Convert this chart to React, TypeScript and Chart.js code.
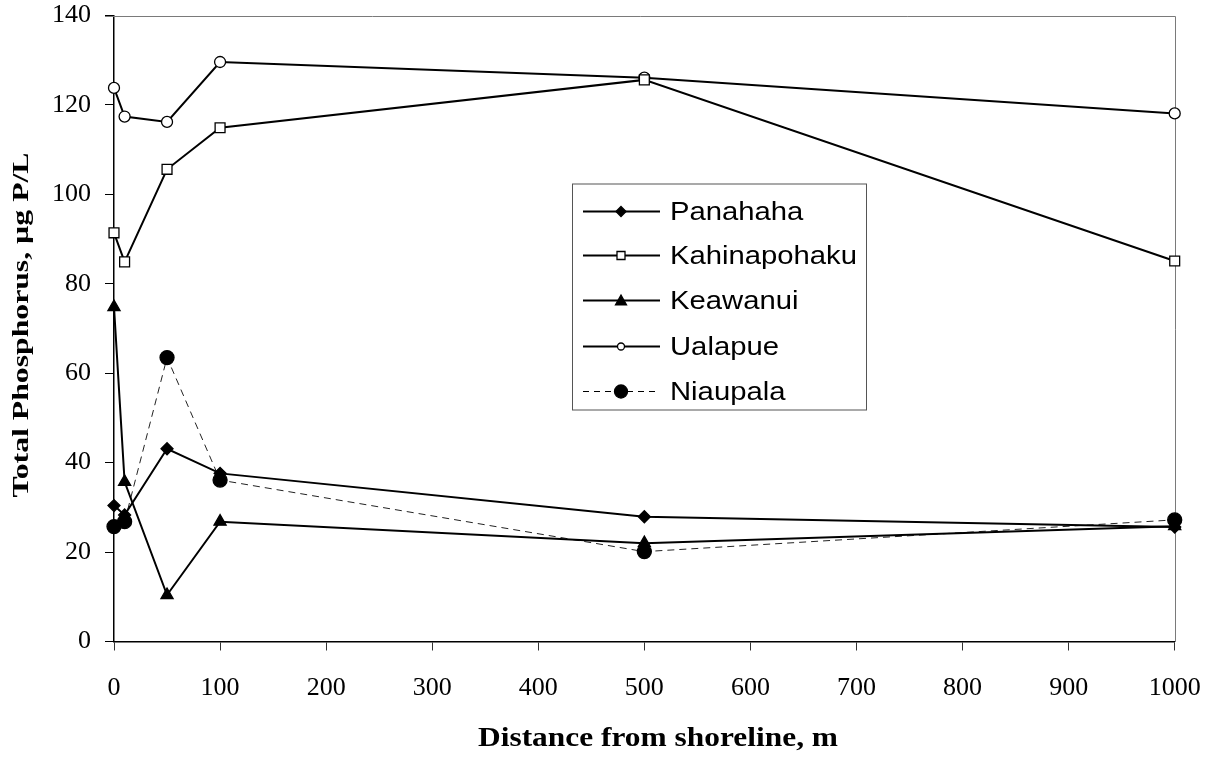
import React, { useEffect, useRef } from 'react';
import { Chart, registerables } from 'chart.js';

Chart.register(...registerables);

// Sampling distances (m) and total phosphorus (µg P/L) per site
const distances = [0, 10, 50, 100, 500, 1000];
const panahaha = [30.4, 28.3, 43.1, 37.6, 27.9, 25.6];
const kahinapohaku = [91.4, 84.9, 105.6, 114.9, 125.6, 85.1];
const keawanui = [74.8, 35.7, 10.4, 26.8, 22.0, 25.8];
const ualapue = [123.8, 117.4, 116.2, 129.6, 126.1, 118.1];
const niaupala = [25.7, 26.8, 63.5, 36.1, 20.1, 27.2];

const seriesNames = ['Panahaha', 'Kahinapohaku', 'Keawanui', 'Ualapue', 'Niaupala'];
const xTicks = { min: 0, max: 1000, step: 100 };
const yTicks = { min: 0, max: 140, step: 20 };
const xTitle = 'Distance from shoreline, m';
const yTitle = 'Total Phosphorus, µg P/L';

const SERIF = "'Liberation Serif', 'Times New Roman', serif";
const SANS = "'Liberation Sans', Arial, sans-serif";

type Marker = 'diamond' | 'square' | 'triangle' | 'ring' | 'dot';

function drawMarker(ctx: CanvasRenderingContext2D, kind: Marker, x: number, y: number, r: number) {
  ctx.save();
  ctx.beginPath();
  ctx.lineWidth = 1.3;
  ctx.strokeStyle = '#000';
  ctx.fillStyle = kind === 'square' || kind === 'ring' ? '#fff' : '#000';
  if (kind === 'diamond') {
    ctx.moveTo(x, y - r);
    ctx.lineTo(x + r, y);
    ctx.lineTo(x, y + r);
    ctx.lineTo(x - r, y);
    ctx.closePath();
  } else if (kind === 'square') {
    ctx.rect(x - r, y - r, 2 * r, 2 * r);
  } else if (kind === 'triangle') {
    ctx.moveTo(x, y - r);
    ctx.lineTo(x + r, y + r * 0.8);
    ctx.lineTo(x - r, y + r * 0.8);
    ctx.closePath();
  } else {
    ctx.arc(x, y, r, 0, Math.PI * 2);
  }
  ctx.fill();
  ctx.stroke();
  ctx.restore();
}

// Text stretched along its own direction to a given length
function drawStretched(
  ctx: CanvasRenderingContext2D,
  text: string,
  x: number,
  y: number,
  font: string,
  scaleX: number,
  align: CanvasTextAlign,
  rotate = 0
) {
  ctx.save();
  ctx.font = font;
  ctx.translate(x, y);
  if (rotate) ctx.rotate(rotate);
  ctx.scale(scaleX, 1);
  ctx.textAlign = align;
  ctx.textBaseline = 'alphabetic';
  ctx.fillStyle = '#000';
  ctx.fillText(text, 0, 0);
  ctx.restore();
}

function widthOf(ctx: CanvasRenderingContext2D, text: string, font: string) {
  ctx.save();
  ctx.font = font;
  const w = ctx.measureText(text).width;
  ctx.restore();
  return w;
}

const legendMarkers: { kind: Marker; r: number; dashed: boolean }[] = [
  { kind: 'diamond', r: 5, dashed: false },
  { kind: 'square', r: 4, dashed: false },
  { kind: 'triangle', r: 5.5, dashed: false },
  { kind: 'ring', r: 3.5, dashed: false },
  { kind: 'dot', r: 6.5, dashed: true },
];

const decorPlugin = {
  id: 'decor',
  beforeDatasetsDraw(chart: any) {
    const { ctx, chartArea } = chart;
    ctx.save();
    ctx.strokeStyle = '#7a7a7a';
    ctx.lineWidth = 1;
    ctx.beginPath();
    ctx.moveTo(Math.round(chartArea.left) - 9, Math.round(chartArea.top) + 0.5);
    ctx.lineTo(Math.round(chartArea.right) + 0.5, Math.round(chartArea.top) + 0.5);
    ctx.lineTo(Math.round(chartArea.right) + 0.5, Math.round(chartArea.bottom));
    ctx.stroke();
    ctx.restore();
  },
  afterDatasetsDraw(chart: any) {
    const { ctx } = chart;
    // legend box
    const bx = 572, by = 183.5, bw = 294, bh = 226;
    ctx.save();
    ctx.fillStyle = '#fff';
    ctx.fillRect(bx, by, bw, bh);
    ctx.strokeStyle = '#555';
    ctx.lineWidth = 1;
    ctx.strokeRect(bx + 0.5, by + 0.5, bw, bh);
    const legendFont = `25px ${SANS}`;
    const legendScale = 187 / widthOf(ctx, 'Kahinapohaku', legendFont);
    const rowY = [210.7, 255, 300, 345.5, 390.5];
    seriesNames.forEach((name, i) => {
      const y = Math.round(rowY[i]) + 0.5;
      const m = legendMarkers[i];
      ctx.save();
      ctx.strokeStyle = '#000';
      if (m.dashed) {
        ctx.lineWidth = 1;
        ctx.setLineDash([6, 5]);
      } else {
        ctx.lineWidth = 2;
      }
      ctx.beginPath();
      ctx.moveTo(583, y);
      ctx.lineTo(660, y);
      ctx.stroke();
      ctx.restore();
      drawMarker(ctx, m.kind, 621, y, m.r);
      drawStretched(ctx, name, 670, y + 8.5, legendFont, legendScale, 'left');
    });
    ctx.restore();

    // axis titles
    const xFont = `bold 27px ${SERIF}`;
    drawStretched(ctx, xTitle, 658, 745.5, xFont, 360 / widthOf(ctx, xTitle, xFont), 'center');
    const yFont = `bold 24px ${SERIF}`;
    drawStretched(ctx, yTitle, 27.5, 325, yFont, 345 / widthOf(ctx, yTitle, yFont), 'center', -Math.PI / 2);
  },
};

const toPoints = (ys: number[]) => distances.map((x, i) => ({ x, y: ys[i] }));

const noScalePadding = (scale: any) => {
  scale.paddingTop = 0;
  scale.paddingBottom = 0;
  scale.paddingLeft = 0;
  scale.paddingRight = 0;
};

export default function App() {
  const ref = useRef<HTMLCanvasElement | null>(null);

  useEffect(() => {
    document.body.style.margin = '0';
    const canvas = ref.current;
    if (!canvas) return;

    const solid = {
      borderColor: '#000',
      borderWidth: 2,
      pointBorderColor: '#000',
      pointBorderWidth: 1.3,
      tension: 0,
      clip: false as const,
    };

    const chart = new Chart(canvas, {
      type: 'line',
      data: {
        datasets: [
          {
            ...solid,
            label: seriesNames[0],
            data: toPoints(panahaha),
            pointStyle: 'rectRot',
            pointRadius: 6,
            pointBackgroundColor: '#000',
          },
          {
            ...solid,
            label: seriesNames[1],
            data: toPoints(kahinapohaku),
            pointStyle: 'rect',
            pointRadius: 7,
            pointBackgroundColor: '#fff',
          },
          {
            ...solid,
            label: seriesNames[2],
            data: toPoints(keawanui),
            pointStyle: 'triangle',
            pointRadius: 7,
            pointBackgroundColor: '#000',
          },
          {
            ...solid,
            label: seriesNames[3],
            data: toPoints(ualapue),
            pointStyle: 'circle',
            pointRadius: 5.5,
            pointBackgroundColor: '#fff',
          },
          {
            ...solid,
            label: seriesNames[4],
            data: toPoints(niaupala),
            borderWidth: 1,
            borderColor: '#222',
            borderDash: [7, 5],
            pointStyle: 'circle',
            pointRadius: 7,
            pointBackgroundColor: '#000',
          },
        ],
      },
      options: {
        responsive: false,
        devicePixelRatio: 1,
        animation: false,
        layout: { padding: { top: 15.5, right: 39.3, left: 0, bottom: 0 } },
        plugins: {
          legend: { display: false },
          tooltip: { enabled: false },
        },
        scales: {
          x: {
            type: 'linear',
            min: xTicks.min,
            max: xTicks.max,
            afterFit: (scale: any) => {
              scale.height = 115.5;
              noScalePadding(scale);
            },
            ticks: {
              stepSize: xTicks.step,
              color: '#000',
              font: { family: SERIF, size: 26 },
              padding: 22,
              maxRotation: 0,
              autoSkip: false,
              callback: (v: any) => String(v),
            },
            grid: {
              drawOnChartArea: false,
              drawTicks: true,
              tickLength: 9,
              color: '#333',
              tickWidth: 1,
            },
            border: { color: '#000', width: 1.5 },
          },
          y: {
            type: 'linear',
            min: yTicks.min,
            max: yTicks.max,
            afterFit: (scale: any) => {
              scale.width = 114;
              noScalePadding(scale);
            },
            ticks: {
              stepSize: yTicks.step,
              color: '#000',
              font: { family: SERIF, size: 26 },
              padding: 14,
              callback: (v: any) => String(v),
            },
            grid: {
              drawOnChartArea: false,
              drawTicks: true,
              tickLength: 9,
              color: '#000',
              tickWidth: 1,
            },
            border: { color: '#000', width: 1.5 },
          },
        },
      },
      plugins: [decorPlugin],
    });

    return () => chart.destroy();
  }, []);

  return <canvas ref={ref} width={1214} height={757} style={{ display: 'block' }} />;
}
